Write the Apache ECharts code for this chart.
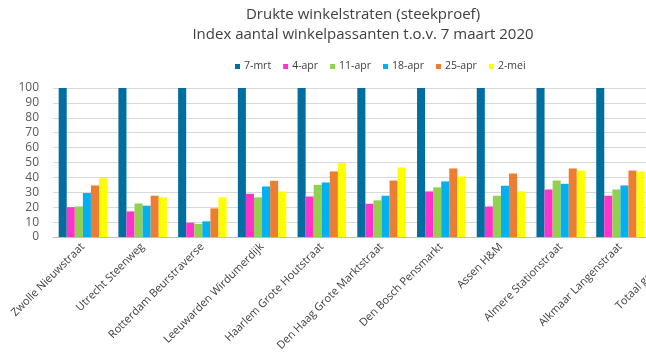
<!DOCTYPE html>
<html><head><meta charset="utf-8">
<script src="https://cdn.jsdelivr.net/npm/echarts@6/dist/echarts.min.js"></script>
<style>html,body{margin:0;padding:0;width:646px;height:364px;overflow:hidden;background:#fff}#c{width:726px;height:364px}</style>
</head><body><div id="c"></div>
<script>
const categories = ["Zwolle Nieuwstraat","Utrecht Steenweg","Rotterdam Beurstraverse","Leeuwarden Wirdumerdijk","Haarlem Grote Houtstraat","Den Haag Grote Marktstraat","Den Bosch Pensmarkt","Assen H&M","Almere Stationstraat","Alkmaar Langenstraat","Totaal gemiddeld"];
const seriesNames = ["7-mrt","4-apr","11-apr","18-apr","25-apr","2-mei"];
const s7mrt  = [100,100,100,100,100,100,100,100,100,100,100];
const s4apr  = [20,17.2,9.6,29,27.2,22.3,30.6,20.5,31.9,27.7,25];
const s11apr = [20.5,22.5,8.7,26.6,35,24.6,33.3,27.7,37.9,31.9,27];
const s18apr = [29.5,21,10.5,33.9,36.6,27.7,37.3,34.4,35.7,34.6,31];
const s25apr = [34.6,27.7,19.2,37.7,44,37.9,46,42.6,46,44.6,38];
const s2mei  = [39.5,26.6,26.6,30.6,49.6,46.7,40.6,30.6,44.6,44,38];
const yTicks = [0,10,20,30,40,50,60,70,80,90,100];
const colors = ["#006FA0","#FF33CC","#92D050","#00B0F0","#ED7D31","#FFFF00"];
const values = [s7mrt,s4apr,s11apr,s18apr,s25apr,s2mei];
const font = "'Open Sans', 'Noto Sans', sans-serif";
const chart = echarts.init(document.getElementById('c'));
chart.setOption({
  animation:false,
  color: colors,
  title:{
    text:"Drukte winkelstraten (steekproef)\nIndex aantal winkelpassanten t.o.v. 7 maart 2020",
    left:358, top:0, textAlign:'center',
    textStyle:{fontFamily:font,fontSize:15,fontWeight:'normal',color:'#404040',lineHeight:20}
  },
  legend:{
    data:seriesNames, left:230, top:56, itemWidth:5, itemHeight:5, itemGap:12, icon:'rect',
    textStyle:{fontFamily:font,fontSize:10.5,color:'#404040',padding:[0,0,0,-1]}
  },
  grid:{left:53, top:88, width:657, bottom:127, containLabel:false},
  xAxis:{
    type:'category', data:categories,
    axisLine:{lineStyle:{color:'#BFBFBF'}},
    axisTick:{length:5,lineStyle:{color:'#BFBFBF'}},
    axisLabel:{rotate:45, interval:0, fontFamily:font, fontSize:11, color:'#404040', margin:8}
  },
  yAxis:{
    type:'value', min:yTicks[0], max:yTicks[yTicks.length-1], interval:10,
    axisLine:{show:false}, axisTick:{show:false},
    splitLine:{lineStyle:{color:'#D9D9D9'}},
    axisLabel:{fontFamily:font, fontSize:12, color:'#595959', margin:14}
  },
  series: seriesNames.map((n,i)=>({
    name:n, type:'bar', data:values[i], barGap:'0%', barCategoryGap:'19%'
  }))
});
</script></body></html>
